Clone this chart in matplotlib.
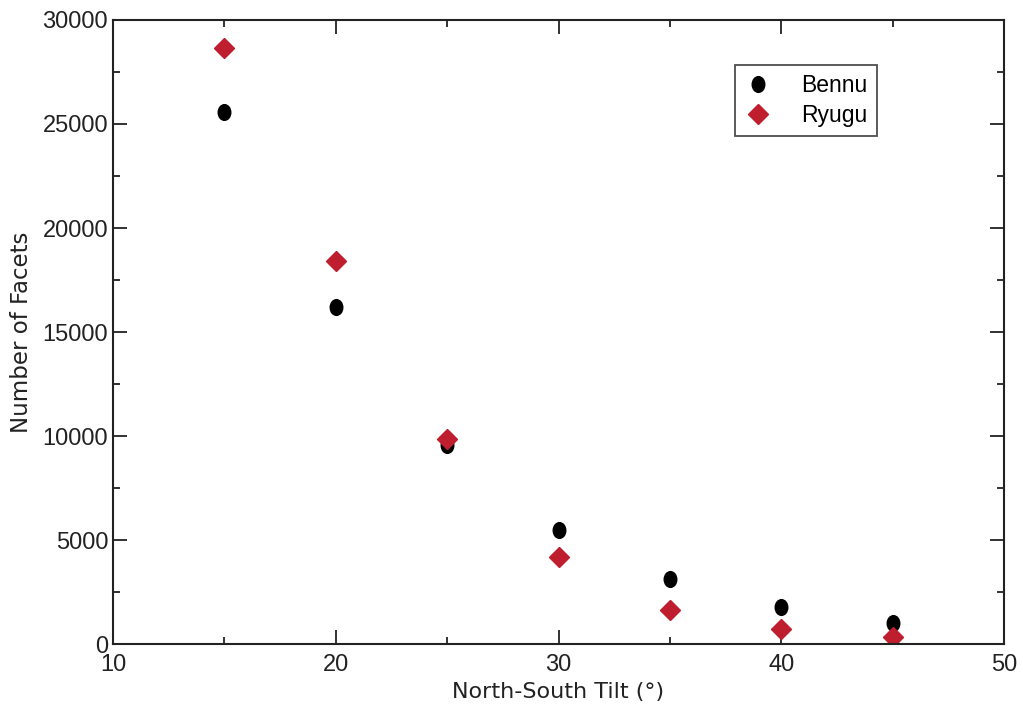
import matplotlib
matplotlib.use("Agg")
import matplotlib.pyplot as plt
from matplotlib.path import Path
from matplotlib.transforms import Affine2D
from matplotlib.ticker import MultipleLocator

plt.rcParams['font.family'] = ['Liberation Sans', 'DejaVu Sans']

tilt = [15, 20, 25, 30, 35, 40, 45]
bennu = [25580, 16200, 9560, 5480, 3120, 1780, 1010]
ryugu = [28650, 18410, 9850, 4180, 1630, 720, 340]

fig = plt.figure(figsize=(10.23, 7.04), dpi=100)
ax = fig.add_axes([0.1105, 0.0852, 0.8709, 0.8864])

ellipse = Path.unit_circle().transformed(Affine2D().scale(0.8, 1.0))

ax.plot(tilt, bennu, linestyle='none', marker=ellipse, markersize=11.3,
        color='black', label='Bennu')
ax.plot(tilt, ryugu, linestyle='none', marker='D', markersize=9.7,
        color='#BE1E2D', label='Ryugu')

ax.set_xlim(10, 50)
ax.set_ylim(0, 30000)
ax.xaxis.set_major_locator(MultipleLocator(10))
ax.xaxis.set_minor_locator(MultipleLocator(5))
ax.yaxis.set_major_locator(MultipleLocator(5000))
ax.yaxis.set_minor_locator(MultipleLocator(2500))
ax.tick_params(which='both', direction='in', top=True, right=True,
               labelsize=17, width=1.3, colors='#222222')
ax.tick_params(axis='x', which='major', pad=7.5)
ax.tick_params(which='major', length=10)
ax.tick_params(which='minor', length=5)
for s in ax.spines.values():
    s.set_linewidth(1.5)
    s.set_color('#222222')

ax.set_xlabel('North-South Tilt (°)', fontsize=16, color='#222222',
              labelpad=4, family='DejaVu Sans')
ax.set_ylabel('Number of Facets', fontsize=16.5, color='#222222',
              labelpad=7, family='DejaVu Sans')

leg = ax.legend(loc='upper left', bbox_to_anchor=(0.698, 0.928), fontsize=16.5,
                frameon=True, fancybox=False, edgecolor='#222222',
                handletextpad=1.3, borderpad=0.4, labelspacing=0.3,
                handlelength=1.2, borderaxespad=0)
leg.get_frame().set_linewidth(1.3)

fig.savefig('out.png', dpi=100)
